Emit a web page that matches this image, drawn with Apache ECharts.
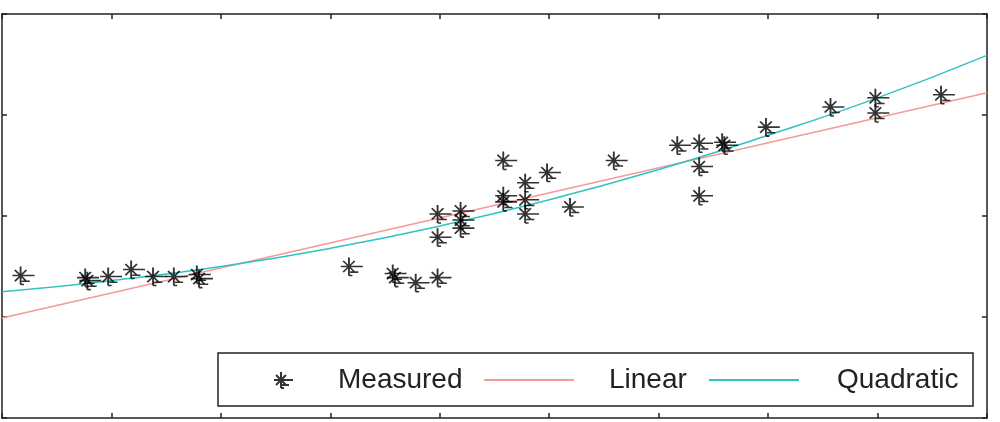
<!DOCTYPE html>
<html>
<head>
<meta charset="utf-8">
<script src="https://cdn.jsdelivr.net/npm/echarts@6/dist/echarts.min.js"></script>
<style>
  html, body { margin: 0; padding: 0; background: #fff; }
  #main { width: 1000px; height: 422px; }
</style>
</head>
<body>
<div id="main"></div>
<script>
// measured points [x, y]
var measured = [
    [0.17, 1.41], [0.76, 1.39], [0.78, 1.36], [0.97, 1.40], [1.18, 1.47],
    [1.38, 1.40], [1.57, 1.40], [1.78, 1.42], [1.80, 1.38],
    [3.17, 1.50], [3.57, 1.43], [3.59, 1.39], [3.78, 1.34], [3.98, 1.39],
    [3.98, 2.02], [3.98, 1.79], [4.19, 2.05], [4.19, 1.96], [4.19, 1.88],
    [4.58, 2.55], [4.58, 2.20], [4.58, 2.14], [4.78, 2.33], [4.78, 2.16],
    [4.78, 2.02], [4.98, 2.43], [5.19, 2.09], [5.59, 2.55],
    [6.17, 2.70], [6.37, 2.72], [6.37, 2.49], [6.37, 2.20], [6.58, 2.73],
    [6.60, 2.70], [6.98, 2.88], [7.57, 3.08], [7.98, 3.17], [7.98, 3.02],
    [8.58, 3.20]
];
// fitted lines, read at a few x positions
var linearFit = [[0, 0.99], [9, 3.22]];
var quadX = [0, 1, 2, 3, 4, 5, 6, 7, 8, 9];
var quadY = [1.25, 1.36, 1.50, 1.68, 1.90, 2.16, 2.46, 2.80, 3.17, 3.59];

var quadFit = [];
for (var i = 0; i < quadX.length; i++) {
    quadFit.push([quadX[i], quadY[i]]);
}

// asterisk marker (with the little smear to the lower right)
var star = 'path://M-7 0L12 0M0 -8L0 8M-5 -5L5 5M-5 5L5 -5M1 5L8 5M0 8L3 8';

var axisCommon = {
    type: 'value',
    axisLine: { show: true, onZero: false, lineStyle: { color: '#222', width: 1.5 } },
    axisTick: { show: true, inside: true, length: 5, lineStyle: { color: '#222', width: 1.5 } },
    axisLabel: { show: false },
    splitLine: { show: false }
};

var legendText = { fontFamily: 'Liberation Sans', fontSize: 28, color: '#222' };

var chart = echarts.init(document.getElementById('main'));
chart.setOption({
    animation: false,
    backgroundColor: '#fff',
    grid: { left: 2, right: 13, top: 14, bottom: 4, containLabel: false },
    xAxis: [
        Object.assign({}, axisCommon, { position: 'bottom', min: 0, max: 9, interval: 1 }),
        Object.assign({}, axisCommon, { position: 'top', min: 0, max: 9, interval: 1 })
    ],
    yAxis: [
        Object.assign({}, axisCommon, { position: 'left', min: 0, max: 4, interval: 1 }),
        Object.assign({}, axisCommon, { position: 'right', min: 0, max: 4, interval: 1 })
    ],
    // frame of the legend
    graphic: [{
        type: 'rect',
        z: 3,
        shape: { x: 218, y: 353, width: 755, height: 53 },
        style: { fill: '#fff', stroke: '#222', lineWidth: 1.5 }
    }],
    legend: [
        {
            left: 273, top: 366, padding: 0,
            itemWidth: 19, itemHeight: 16,
            textStyle: Object.assign({ padding: [0, 0, 0, 40] }, legendText),
            data: [{ name: 'Measured', icon: star }]
        },
        {
            left: 483, top: 366, padding: 0,
            itemWidth: 90, itemHeight: 16,
            textStyle: Object.assign({ padding: [0, 0, 0, 30] }, legendText),
            data: [{ name: 'Linear', itemStyle: { opacity: 0 } }]
        },
        {
            left: 708, top: 366, padding: 0,
            itemWidth: 90, itemHeight: 16,
            textStyle: Object.assign({ padding: [0, 0, 0, 33] }, legendText),
            data: [{ name: 'Quadratic', itemStyle: { opacity: 0 } }]
        }
    ],
    series: [
        {
            name: 'Linear',
            type: 'line',
            data: linearFit,
            symbol: 'none',
            lineStyle: { color: '#f49a9a', width: 1.5 },
            itemStyle: { color: '#f49a9a' },
            z: 2
        },
        {
            name: 'Quadratic',
            type: 'line',
            data: quadFit,
            symbol: 'none',
            smooth: true,
            lineStyle: { color: '#2ec4c4', width: 1.5 },
            itemStyle: { color: '#2ec4c4' },
            z: 2
        },
        {
            name: 'Measured',
            type: 'scatter',
            data: measured,
            symbol: star,
            symbolSize: [22, 18],
            symbolKeepAspect: false,
            symbolOffset: [2.9, 0],
            itemStyle: { color: 'rgba(0,0,0,0)', borderColor: '#000', borderWidth: 1.7 },
            z: 3
        }
    ]
});
</script>
</body>
</html>
